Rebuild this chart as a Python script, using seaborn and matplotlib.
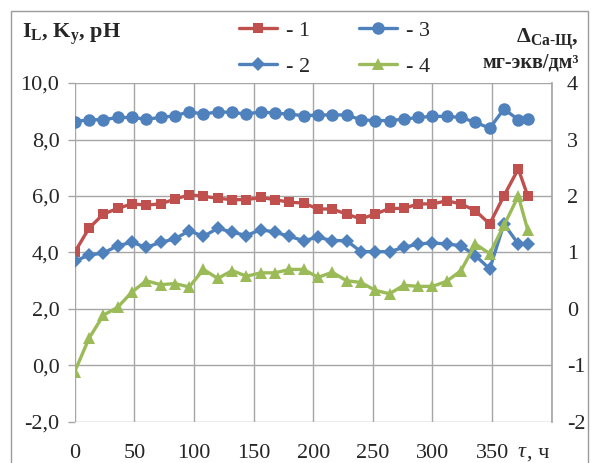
import numpy as np
import pandas as pd
import matplotlib
matplotlib.use("Agg")
import matplotlib.pyplot as plt
from matplotlib.patches import Rectangle
from matplotlib.lines import Line2D
import seaborn as sns

# time, h: every 12 h, last sample at 380 h
hours = list(range(0, 373, 12)) + [380]

# left axis: I_L, K_y, pH
s1 = [4.01, 4.86, 5.36, 5.56, 5.72, 5.68, 5.72, 5.89, 6.04, 5.99, 5.92, 5.87,
      5.87, 5.95, 5.87, 5.78, 5.75, 5.54, 5.54, 5.36, 5.19, 5.36, 5.56, 5.56,
      5.72, 5.72, 5.83, 5.72, 5.48, 5.01, 6.01, 6.96, 5.99]
s2 = [3.69, 3.91, 3.98, 4.24, 4.36, 4.18, 4.36, 4.48, 4.77, 4.57, 4.86, 4.72,
      4.60, 4.81, 4.72, 4.57, 4.42, 4.54, 4.42, 4.42, 4.03, 4.03, 4.03, 4.18,
      4.30, 4.34, 4.30, 4.24, 3.89, 3.42, 5.01, 4.30, 4.30]
s3 = [8.63, 8.70, 8.70, 8.78, 8.78, 8.72, 8.78, 8.84, 8.98, 8.90, 8.98, 8.96,
      8.90, 8.98, 8.93, 8.90, 8.84, 8.87, 8.87, 8.87, 8.70, 8.67, 8.67, 8.72,
      8.78, 8.82, 8.82, 8.78, 8.61, 8.40, 9.08, 8.70, 8.72]
# right axis: delta Ca-Shch, mg-eq/dm3
s4 = [-1.11, -0.52, -0.11, 0.03, 0.30, 0.50, 0.43, 0.45, 0.39, 0.70, 0.54, 0.68,
      0.58, 0.64, 0.64, 0.70, 0.70, 0.56, 0.65, 0.50, 0.47, 0.33, 0.27, 0.42,
      0.40, 0.40, 0.49, 0.68, 1.15, 0.98, 1.48, 2.00, 1.39]

left_ticks = [-2, 0, 2, 4, 6, 8, 10]
left_labels = ["-2,0", "0,0", "2,0", "4,0", "6,0", "8,0", "10,0"]
right_ticks = [-2, -1, 0, 1, 2, 3, 4]
x_ticks = [0, 50, 100, 150, 200, 250, 300, 350, 400]
x_labels = ["0", "50", "100", "150", "200", "250", "300", "350", ""]

red, blue, green = "#C0504D", "#4F81BD", "#9BBB59"
grid_col = "#A6A6A6"

sns.set_theme(style="white")
plt.rcParams["font.family"] = ["Liberation Serif", "DejaVu Serif"]
plt.rcParams["mathtext.fontset"] = "custom"
plt.rcParams["mathtext.rm"] = "Liberation Serif:bold"
plt.rcParams["mathtext.bf"] = "Liberation Serif:bold"
plt.rcParams["mathtext.it"] = "Liberation Serif:bold"

df = pd.DataFrame({"t": hours, "s1": s1, "s2": s2, "s3": s3, "s4": s4})

fig = plt.figure(figsize=(5.91, 4.63), dpi=100)
ax = fig.add_axes([0.1264, 0.0886, 0.8071, 0.7321])
ax2 = ax.twinx()

lw = 2.4
sns.lineplot(data=df, x="t", y="s1", ax=ax, color=red, marker="s", markersize=7.8,
             markeredgewidth=0, linewidth=lw, zorder=3)
sns.lineplot(data=df, x="t", y="s2", ax=ax, color=blue, marker="D", markersize=6.8,
             markeredgewidth=0, linewidth=lw, zorder=3)
sns.lineplot(data=df, x="t", y="s3", ax=ax, color=blue, marker="o", markersize=9,
             markeredgewidth=0, linewidth=lw, zorder=3)
sns.lineplot(data=df, x="t", y="s4", ax=ax2, color=green, marker="^", markersize=9,
             markeredgewidth=0, linewidth=lw, zorder=3)

ax.set_xlim(0, 400)
ax.set_ylim(-2, 10)
ax2.set_ylim(-2, 4)
ax.set_xticks(x_ticks)
ax.set_xticklabels(x_labels)
ax.set_yticks(left_ticks)
ax.set_yticklabels(left_labels)
ax2.set_yticks(right_ticks)
ax2.set_yticklabels([str(v) for v in right_ticks])
ax.set_xlabel("")
ax.set_ylabel("")
ax2.set_ylabel("")

ax.grid(True, color=grid_col, linewidth=1.0)
ax2.grid(False)
for a in (ax, ax2):
    for sp in a.spines.values():
        sp.set_visible(False)
ax2.spines["right"].set_visible(True)
ax2.spines["right"].set_color(grid_col)

ax.tick_params(axis="y", length=5, width=1.0, color=grid_col, pad=6,
               labelsize=16, left=True)
ax.tick_params(axis="x", length=0, pad=16, labelsize=16)
ax2.tick_params(axis="y", length=0, pad=11, labelsize=16)

# axis titles
fig.text(0.037, 0.918, r"$\mathrm{I_L}$, $\mathrm{K_y}$, pH", fontsize=16,
         fontweight="bold", ha="left", va="baseline")
fig.text(0.98, 0.908, r"$\mathrm{\Delta_{Ca\text{-}Щ}}$,", fontsize=16,
         fontweight="bold", ha="right", va="baseline")
fig.text(0.98, 0.855, "мг-экв/дм³", fontsize=14.5, fontweight="bold",
         ha="right", va="baseline")
fig.text(0.876, 0.012, "τ", fontsize=16, style="italic", ha="left", va="baseline")
fig.text(0.891, 0.012, ", ч", fontsize=16, ha="left", va="baseline")

# legend
handles = [
    Line2D([], [], color=red, marker="s", markersize=7.8, markeredgewidth=0, linewidth=lw),
    Line2D([], [], color=blue, marker="D", markersize=6.8, markeredgewidth=0, linewidth=lw),
    Line2D([], [], color=blue, marker="o", markersize=9, markeredgewidth=0, linewidth=lw),
    Line2D([], [], color=green, marker="^", markersize=9, markeredgewidth=0, linewidth=lw),
]
fig.legend(handles, ["- 1", "- 2", "- 3", "- 4"], ncol=2, loc="upper left",
           bbox_to_anchor=(0.39, 0.975), frameon=False, fontsize=16,
           handlelength=1.7, handletextpad=0.4, columnspacing=2.2,
           labelspacing=0.7, borderaxespad=0)

# outer frame
fig.patches.append(Rectangle((11 / 591, -0.05), 577 / 591, 1.05 - 11 / 463,
                             transform=fig.transFigure, fill=False,
                             edgecolor="#9A9A9A", linewidth=1.0))

fig.savefig("out.png", dpi=100)
